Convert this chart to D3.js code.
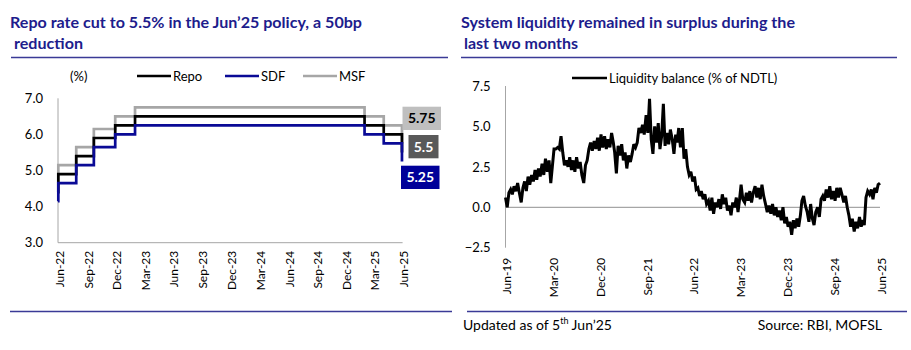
<!DOCTYPE html>
<html>
<head>
<meta charset="utf-8">
<script src="https://cdn.jsdelivr.net/npm/d3@7"></script>
<style>
  html, body { margin: 0; padding: 0; background: #fff; }
  svg { display: block; }
  text { font-family: Lato, "Open Sans", sans-serif; }
</style>
</head>
<body>
<svg id="chart" width="911" height="350"></svg>
<script>
// ---------------- Data: left chart (policy rates, %) ----------------
const policyDates = ["2022-06-08","2022-06-09","2022-08-05","2022-09-30","2022-12-07","2023-02-08","2025-02-07","2025-04-09","2025-06-06"];
const repoRates = [4.40, 4.90, 5.40, 5.90, 6.25, 6.50, 6.25, 6.00, 5.50];
const sdfRates  = [4.15, 4.65, 5.15, 5.65, 6.00, 6.25, 6.00, 5.75, 5.25];
const msfRates  = [4.65, 5.15, 5.65, 6.15, 6.50, 6.75, 6.50, 6.25, 5.75];
const leftSeriesNames = ["Repo", "SDF", "MSF"];
const leftYTicks = [3.0, 4.0, 5.0, 6.0, 7.0];
const leftXTickLabels = ["Jun-22","Sep-22","Dec-22","Mar-23","Jun-23","Sep-23","Dec-23","Mar-24","Jun-24","Sep-24","Dec-24","Mar-25","Jun-25"];
const endLabels = ["5.75", "5.5", "5.25"];

// ---------------- Data: right chart (liquidity balance, % of NDTL) ----------------
// three readings per month (1st, 11th, 21st), Jun-19 .. May-25, plus Jun-25 start
const liqMonths = ["2019-06","2019-07","2019-08","2019-09","2019-10","2019-11","2019-12",
  "2020-01","2020-02","2020-03","2020-04","2020-05","2020-06","2020-07","2020-08","2020-09","2020-10","2020-11","2020-12",
  "2021-01","2021-02","2021-03","2021-04","2021-05","2021-06","2021-07","2021-08","2021-09","2021-10","2021-11","2021-12",
  "2022-01","2022-02","2022-03","2022-04","2022-05","2022-06","2022-07","2022-08","2022-09","2022-10","2022-11","2022-12",
  "2023-01","2023-02","2023-03","2023-04","2023-05","2023-06","2023-07","2023-08","2023-09","2023-10","2023-11","2023-12",
  "2024-01","2024-02","2024-03","2024-04","2024-05","2024-06","2024-07","2024-08","2024-09","2024-10","2024-11","2024-12",
  "2025-01","2025-02","2025-03","2025-04","2025-05"];
const liqValues = [
  [0.6, 0.0, 0.9], [1.1, 0.8, 1.3], [1.0, 1.5, 0.9], [0.3, 1.2, 1.6],
  [1.0, 1.9, 1.4], [2.0, 1.6, 2.3], [1.7, 2.4, 1.9],
  [2.7, 2.0, 3.0], [2.2, 2.9, 1.5], [2.5, 3.6, 3.6], [3.7, 3.6, 4.4],
  [3.4, 2.6, 2.9], [2.5, 3.1, 2.3], [2.9, 2.2, 3.1], [2.4, 2.8, 2.0],
  [1.5, 2.6, 2.9], [3.6, 4.0, 3.5], [4.1, 3.6, 4.3], [3.5, 4.5, 3.7],
  [4.4, 3.6, 4.2], [3.7, 4.6, 4.0], [3.4, 2.1, 3.8], [3.2, 3.9, 2.9],
  [3.4, 2.4, 3.2], [2.8, 3.3, 3.9], [3.7, 4.0, 4.9], [4.6, 5.1, 4.5],
  [5.7, 4.6, 6.7], [4.2, 3.3, 5.0], [4.0, 5.2, 3.6], [4.4, 6.4, 3.8],
  [4.6, 3.9, 4.8], [4.2, 3.3, 4.5], [4.0, 4.9, 3.7], [4.9, 3.0, 3.6],
  [2.5, 2.0, 2.2], [1.6, 1.9, 1.1], [1.2, 0.7, 1.0], [0.5, 0.8, 0.2],
  [0.4, -0.2, 0.6], [-0.4, 0.3, 0.0], [0.5, -0.1, 0.8], [0.2, 0.6, -0.2],
  [0.1, -0.5, 0.3], [0.0, 0.6, -0.3], [0.4, 1.4, 0.5], [0.3, 0.9, 0.4],
  [1.0, 0.3, 0.9], [1.3, 0.6, 1.2], [0.5, 1.4, 0.7], [0.2, -0.3, 0.1],
  [-0.4, 0.2, -0.5], [0.0, -0.6, -0.2], [-0.8, 0.0, -1.0], [-0.6, -1.2, -0.9],
  [-1.7, -0.8, -1.3], [-0.7, -1.2, -0.5], [0.4, 0.7, 0.1], [-0.3, -0.9, 0.2],
  [-0.7, -1.1, -0.3], [0.0, -0.6, 0.5], [0.7, 0.4, 1.1], [0.6, 1.3, 0.5],
  [1.0, 0.4, 1.2], [0.6, 1.2, 0.8], [0.3, 0.7, 0.0], [-0.5, -1.2, -0.7],
  [-1.5, -0.9, -1.3], [-0.6, -1.2, -0.8], [-1.1, 0.6, 1.0], [0.8, 1.1, 0.5],
  [1.2, 0.9, 1.4]
];
const liqLastDate = "2025-06-01";
const liqLastValue = 1.5;
const rightYTicks = [-2.5, 0.0, 2.5, 5.0, 7.5];
const rightXTickLabels = ["Jun-19","Mar-20","Dec-20","Sep-21","Jun-22","Mar-23","Dec-23","Sep-24","Jun-25"];

// ---------------- Drawing ----------------
const svg = d3.select("#chart");
const parse = d3.timeParse("%Y-%m-%d");
const parseMY = d3.timeParse("%b-%y");
const fmtMY = d3.timeFormat("%b-%y");

const navy = "#201c8c";
const ruleColor = "#3a3a96";
const axisGray = "#a6a6a6";
const sdfBlue = "#0a0a96";
const msfGray = "#a6a6a6";

// Titles
function title(x, y, txt, len) {
  svg.append("text").attr("x", x).attr("y", y).text(txt)
    .attr("font-size", 15).attr("font-weight", 700).attr("fill", navy)
    .attr("textLength", len).attr("lengthAdjust", "spacingAndGlyphs");
}
title(10, 28, "Repo rate cut to 5.5% in the Jun\u201925 policy, a 50bp", 352);
title(14, 49, "reduction", 69);
title(461, 28, "System liquidity remained in surplus during the", 334);
title(464, 49, "last two months", 114);

// Rules
function rule(x1, x2, y) {
  svg.append("line").attr("x1", x1).attr("x2", x2).attr("y1", y).attr("y2", y)
    .attr("stroke", ruleColor).attr("stroke-width", 1.5);
}
rule(11, 448, 57.5);
rule(461, 897, 57.5);
rule(10, 452, 311.5);
rule(467, 907, 311.5);

// ======== LEFT CHART ========
const xL = d3.scaleTime().domain([parse("2022-06-08"), parse("2025-06-08")]).range([58, 402.6]);
const yL = d3.scaleLinear().domain([3, 7]).range([242.7, 98.3]);

const gL = svg.append("g");
gL.append("line").attr("x1", xL.range()[0]).attr("x2", xL.range()[0]).attr("y1", yL(7)).attr("y2", yL(3))
  .attr("stroke", axisGray).attr("stroke-width", 1);
gL.append("line").attr("x1", xL.range()[0]).attr("x2", xL.range()[1]).attr("y1", yL(3)).attr("y2", yL(3))
  .attr("stroke", axisGray).attr("stroke-width", 1);

const yAxisL = d3.axisLeft(yL).tickValues(leftYTicks).tickFormat(d3.format(".1f")).tickSize(0).tickPadding(15);
const yAxL = gL.append("g").attr("transform", `translate(${xL.range()[0]},0)`).call(yAxisL);
yAxL.select(".domain").remove();
yAxL.selectAll("text").attr("font-size", 13).attr("fill", "#000").attr("font-family", "Lato, sans-serif");

const leftTickDates = leftXTickLabels.map((s, i) => d3.timeMonth.offset(xL.domain()[0], i * 3));
const xAxisL = d3.axisBottom(xL).tickValues(leftTickDates).tickFormat((d, i) => leftXTickLabels[i]).tickSize(0).tickPadding(0);
const xAxL = gL.append("g").attr("transform", `translate(0,${yL(3)})`).call(xAxisL);
xAxL.select(".domain").remove();
xAxL.selectAll("text")
  .attr("transform", "rotate(-90)").attr("text-anchor", "end")
  .attr("x", -8).attr("y", 1).attr("dy", "0.35em")
  .attr("font-size", 12).attr("fill", "#000").attr("font-family", "Lato, sans-serif");

const lineL = d3.line().x(d => xL(d.date)).y(d => yL(d.v)).curve(d3.curveStepAfter);
function seriesOf(vals) { return policyDates.map((s, i) => ({ date: parse(s), v: vals[i] })); }
const leftSeries = [
  { name: leftSeriesNames[2], vals: msfRates, color: msfGray },
  { name: leftSeriesNames[0], vals: repoRates, color: "#000" },
  { name: leftSeriesNames[1], vals: sdfRates, color: sdfBlue }
];
gL.selectAll("path.rate").data(leftSeries).join("path").attr("class", "rate")
  .attr("d", d => lineL(seriesOf(d.vals)))
  .attr("fill", "none").attr("stroke", d => d.color).attr("stroke-width", 2.7);

gL.append("text").attr("x", 70).attr("y", 80.5).text("(%)").attr("font-size", 13).attr("fill", "#000");
const legItems = [
  { name: leftSeriesNames[0], color: "#000", x: 137 },
  { name: leftSeriesNames[1], color: sdfBlue, x: 225 },
  { name: leftSeriesNames[2], color: msfGray, x: 303 }
];
legItems.forEach(it => {
  gL.append("line").attr("x1", it.x).attr("x2", it.x + 34).attr("y1", 76).attr("y2", 76)
    .attr("stroke", it.color).attr("stroke-width", 2.5);
  gL.append("text").attr("x", it.x + 36).attr("y", 80.5).text(it.name).attr("font-size", 13).attr("fill", "#000");
});

const boxes = [
  { txt: endLabels[0], x: 402.5, y: 106.7, w: 38.5, h: 23.3, fill: "#bfbfbf", tc: "#000" },
  { txt: endLabels[1], x: 408.5, y: 135, w: 30, h: 23.3, fill: "#595959", tc: "#fff" },
  { txt: endLabels[2], x: 401, y: 165.7, w: 38.5, h: 23.3, fill: "#000099", tc: "#fff" }
];
boxes.forEach(b => {
  gL.append("rect").attr("x", b.x).attr("y", b.y).attr("width", b.w).attr("height", b.h).attr("fill", b.fill);
  gL.append("text").attr("x", b.x + b.w / 2).attr("y", b.y + b.h / 2).attr("dy", "0.36em")
    .attr("text-anchor", "middle").attr("font-size", 14).attr("font-weight", 700).attr("fill", b.tc).text(b.txt);
});

// ======== RIGHT CHART ========
const xR = d3.scaleTime().domain([parse("2019-06-01"), parse("2025-06-01")]).range([505.5, 880]);
const yR = d3.scaleLinear().domain([-2.5, 7.5]).range([247.7, 86]);
const gR = svg.append("g");

gR.append("line").attr("x1", xR.range()[0]).attr("x2", xR.range()[0]).attr("y1", yR(7.5)).attr("y2", yR(-2.5))
  .attr("stroke", axisGray).attr("stroke-width", 1);
gR.append("line").attr("x1", xR.range()[0]).attr("x2", xR.range()[1]).attr("y1", yR(0)).attr("y2", yR(0))
  .attr("stroke", axisGray).attr("stroke-width", 1.2);

const yAxisR = d3.axisLeft(yR).tickValues(rightYTicks).tickFormat(d3.format(".1f")).tickSize(0).tickPadding(15);
const yAxR = gR.append("g").attr("transform", `translate(${xR.range()[0]},0)`).call(yAxisR);
yAxR.select(".domain").remove();
yAxR.selectAll("text").attr("font-size", 13).attr("fill", "#000").attr("font-family", "Lato, sans-serif");

const rightTickDates = rightXTickLabels.map(s => parseMY(s));
const xAxisR = d3.axisBottom(xR).tickValues(rightTickDates).tickFormat(fmtMY).tickSize(0);
const xAxR = gR.append("g").attr("transform", `translate(0,${yR(-2.5)})`).call(xAxisR);
xAxR.select(".domain").remove();
xAxR.selectAll("text")
  .attr("transform", "rotate(-90)").attr("text-anchor", "end")
  .attr("x", -10).attr("y", 1).attr("dy", "0.35em")
  .attr("font-size", 12).attr("fill", "#000").attr("font-family", "Lato, sans-serif");

const liqData = [];
const dayOffsets = [0, 10, 20];
liqMonths.forEach((m, i) => {
  liqValues[i].forEach((v, j) => {
    liqData.push({ date: d3.timeDay.offset(parse(m + "-01"), dayOffsets[j]), v });
  });
});
liqData.push({ date: parse(liqLastDate), v: liqLastValue });

const lineR = d3.line().x(d => xR(d.date)).y(d => yR(d.v));
gR.append("path").datum(liqData).attr("d", lineR)
  .attr("fill", "none").attr("stroke", "#000").attr("stroke-width", 3).attr("stroke-linejoin", "miter").attr("stroke-miterlimit", 3);

gR.append("line").attr("x1", 572).attr("x2", 607).attr("y1", 78).attr("y2", 78).attr("stroke", "#000").attr("stroke-width", 2.5);
gR.append("text").attr("x", 609).attr("y", 83).text("Liquidity balance (% of NDTL)").attr("font-size", 13).attr("fill", "#000");

// footer
const upd = svg.append("text").attr("x", 463).attr("y", 330).attr("font-size", 14).attr("fill", "#000");
upd.append("tspan").text("Updated as of 5");
upd.append("tspan").text("th").attr("font-size", 9).attr("dy", -6);
upd.append("tspan").text(" Jun\u201925").attr("dy", 6);
svg.append("text").attr("x", 882).attr("y", 330).attr("text-anchor", "end").attr("font-size", 14)
  .attr("fill", "#000").text("Source: RBI, MOFSL");
</script>
</body>
</html>
